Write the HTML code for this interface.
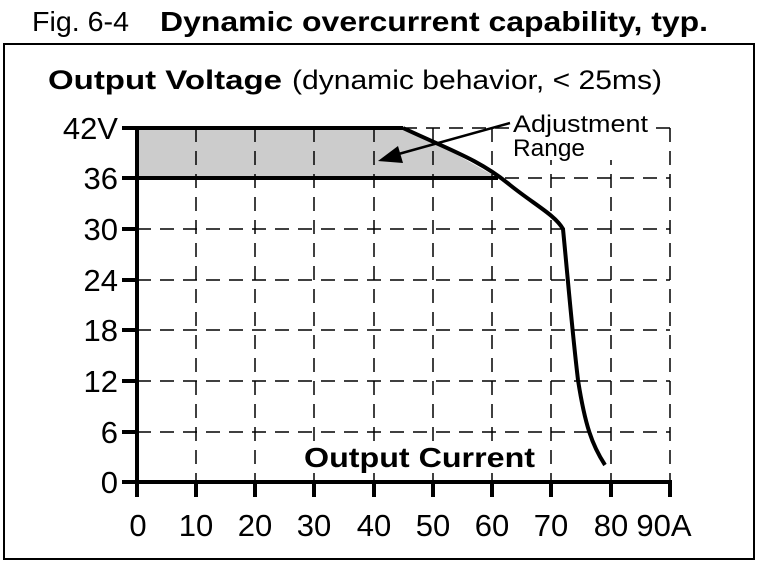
<!DOCTYPE html><html><head><style>body{margin:0;background:#fff}svg{display:block}</style></head><body>
<svg width="758" height="564" xmlns="http://www.w3.org/2000/svg" font-family="'Liberation Sans Narrow','Liberation Sans',sans-serif">
<rect width="758" height="564" fill="#fff"/>
<text x="32" y="31" font-size="28" fill="#000" textLength="97" lengthAdjust="spacingAndGlyphs">Fig. 6-4</text>
<text x="160" y="31" font-size="28" font-weight="bold" fill="#000" textLength="548" lengthAdjust="spacingAndGlyphs">Dynamic overcurrent capability, typ.</text>
<rect x="4" y="44" width="750" height="515" fill="none" stroke="#000" stroke-width="2"/>
<text x="48" y="89" font-size="27" font-weight="bold" fill="#000" textLength="234" lengthAdjust="spacingAndGlyphs">Output Voltage</text>
<text x="292" y="89" font-size="27" fill="#000" textLength="370" lengthAdjust="spacingAndGlyphs">(dynamic behavior, &lt; 25ms)</text>
<polygon points="137,128 403,128 440,145 475,165 498,178 137,178" fill="#cccccc"/>
<g stroke="#000" stroke-width="1.5" stroke-dasharray="14,9" fill="none">
<path d="M196,128V482M255,128V482M314,128V482M374,128V482M433,128V482M492,128V482M551,128V482M611,128V482M670,128V482"/>
<path d="M137,229H670M137,280H670M137,330H670M137,381H670M137,432H670M403,128H670M137,178H670"/>
</g>
<g stroke="#000" stroke-width="4" fill="none">
<path d="M137,126V482H672"/>
<path d="M122,128H403M122,178H498"/>
<path d="M122,229H137M122,280H137M122,330H137M122,381H137M122,432H137M122,482H137"/>
<path d="M137,482V497M196,482V497M255,482V497M314,482V497M374,482V497M433,482V497M492,482V497M551,482V497M611,482V497M670,482V497"/>
<path d="M403,128C450,150 480,160 510,185 C535,205 555,215 563,229 C568,280 572,330 578,380 C585,425 592,445 605,465"/>
</g>
<line x1="510" y1="123" x2="395" y2="155" stroke="#000" stroke-width="2.5"/>
<polygon points="378,161 398,146 403,163" fill="#000"/>
<rect x="511" y="110" width="136" height="50" fill="#fff"/>
<text x="513" y="132" font-size="24" fill="#000" textLength="135" lengthAdjust="spacingAndGlyphs">Adjustment</text>
<text x="513" y="156" font-size="24" fill="#000" textLength="72" lengthAdjust="spacingAndGlyphs">Range</text>
<g font-size="31" fill="#000" text-anchor="end">
<text x="118" y="139">42V</text><text x="118" y="189">36</text><text x="118" y="240">30</text><text x="118" y="291">24</text><text x="118" y="341">18</text><text x="118" y="392">12</text><text x="118" y="443">6</text><text x="118" y="493">0</text>
</g>
<rect x="300" y="442" width="238" height="30" fill="#fff"/>
<text x="304" y="467" font-size="28" font-weight="bold" fill="#000" textLength="231" lengthAdjust="spacingAndGlyphs">Output Current</text>
<g font-size="31" fill="#000" text-anchor="middle">
<text x="138" y="536">0</text><text x="196" y="536">10</text><text x="255" y="536">20</text><text x="314" y="536">30</text><text x="374" y="536">40</text><text x="433" y="536">50</text><text x="492" y="536">60</text><text x="551" y="536">70</text><text x="611" y="536">80</text><text x="664" y="536">90A</text>
</g>
</svg></body></html>
